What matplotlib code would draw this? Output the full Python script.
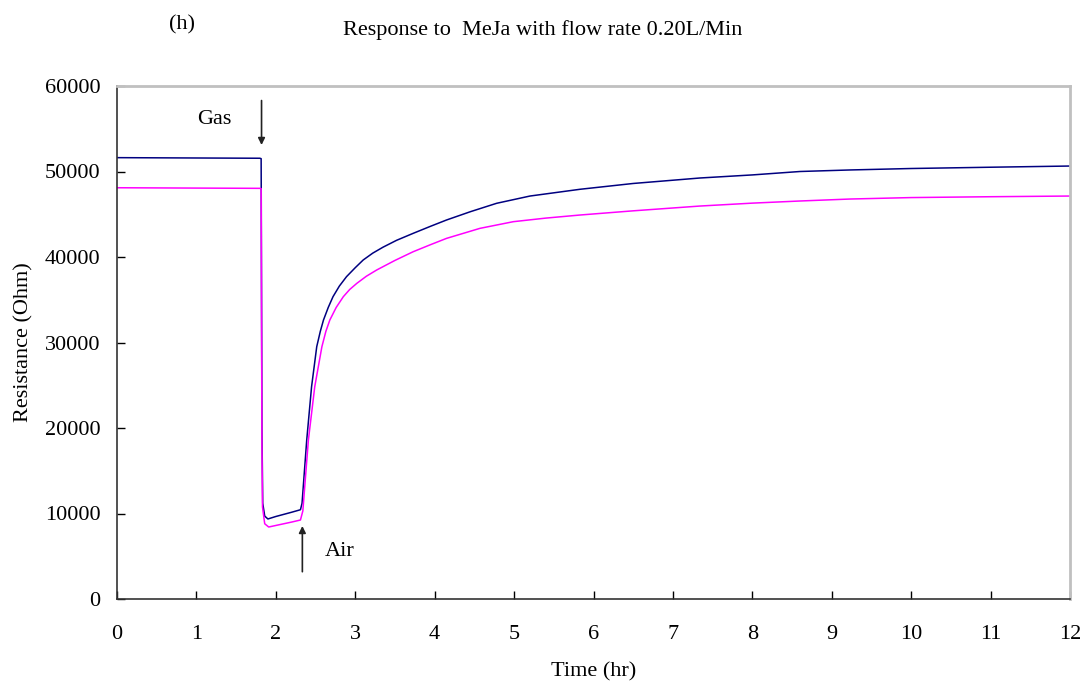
import matplotlib
matplotlib.use("Agg")
import matplotlib.pyplot as plt

plt.rcParams['font.family'] = ['Liberation Serif', 'DejaVu Serif']

# Sensor 1 (navy) resistance trace
time_a = [0, 1.0, 1.80, 1.815, 1.825, 1.835, 1.86, 1.90, 2.0, 2.1, 2.2, 2.31, 2.33,
          2.389, 2.45, 2.515, 2.56, 2.60, 2.66, 2.72, 2.80, 2.89, 3.00, 3.10, 3.22, 3.35,
          3.52, 3.73, 3.95, 4.15, 4.45, 4.78, 5.20, 5.83, 6.50, 7.34, 8.00, 8.60, 9.23,
          10.0, 11.0, 12.0]
res_a = [51620, 51580, 51550, 51500, 20000, 11200, 9700, 9360, 9650, 9900, 10150, 10440, 11200,
         18600, 24830, 29510, 31300, 32630, 34100, 35360, 36600, 37700, 38750, 39650, 40450, 41150,
         41950, 42770, 43600, 44330, 45300, 46280, 47130, 47920, 48600, 49240, 49600, 50000, 50180,
         50350, 50500, 50640]

# Sensor 2 (magenta) resistance trace
time_b = [0, 1.0, 1.80, 1.815, 1.825, 1.832, 1.86, 1.91, 2.0, 2.1, 2.2, 2.31, 2.34,
          2.41, 2.49, 2.58, 2.63, 2.68, 2.76, 2.85, 2.93, 3.02, 3.14, 3.27, 3.50, 3.73,
          3.95, 4.15, 4.57, 4.99, 5.40, 5.83, 6.50, 7.34, 8.00, 8.60, 9.23, 10.0, 11.0, 12.0]
res_b = [48100, 48060, 48030, 48000, 18000, 10760, 8800, 8420, 8600, 8800, 9000, 9240, 10300,
         18600, 24830, 29510, 31300, 32630, 34100, 35360, 36200, 36920, 37750, 38480, 39600, 40620,
         41450, 42180, 43350, 44130, 44550, 44910, 45400, 45960, 46300, 46550, 46780, 46950, 47050, 47130]

x_ticks = list(range(0, 13))
y_ticks = [0, 10000, 20000, 30000, 40000, 50000, 60000]

gas_on = 1.82
air_on = 2.334

fig = plt.figure(figsize=(10.84, 6.82), dpi=100)
ax = fig.add_axes([117 / 1084, 1 - 599 / 682, (1070 - 117) / 1084, (599 - 86) / 682])

ax.plot(time_a, res_a, color='#000080', lw=1.1)
ax.plot(time_b, res_b, color='#FF00FF', lw=1.1)

ax.set_xlim(0, 12)
ax.set_ylim(0, 60000)
ax.set_xticks(x_ticks)
ax.set_yticks(y_ticks)
ax.tick_params(direction='in', length=6, width=1, labelsize=16)
ax.tick_params(axis='y', pad=12)
ax.tick_params(axis='x', pad=19)

for side in ('left', 'bottom'):
    ax.spines[side].set_color('#333333')
    ax.spines[side].set_linewidth(1.2)
for side in ('top', 'right'):
    ax.spines[side].set_color('#c0c0c0')
    ax.spines[side].set_linewidth(2)

ax.set_xlabel('Time (hr)', fontsize=16, labelpad=13)
ax.set_ylabel('Resistance (Ohm)', fontsize=16, labelpad=8)

# Event markers
ax.annotate('', xy=(gas_on, 53100), xytext=(gas_on, 58300),
            arrowprops=dict(arrowstyle='-|>', color='#222222', lw=1.2, mutation_scale=10,
                            shrinkA=0, shrinkB=0))
ax.text(1.23, 56100, 'Gas', fontsize=16, ha='center', va='center')
ax.annotate('', xy=(air_on, 8540), xytext=(air_on, 3190),
            arrowprops=dict(arrowstyle='-|>', color='#222222', lw=1.2, mutation_scale=10,
                            shrinkA=0, shrinkB=0))
ax.text(2.80, 5600, 'Air', fontsize=16, ha='center', va='center')

fig.text(182 / 1084, 1 - 25 / 682, '(h)', fontsize=16, ha='center', va='center')
fig.text(542.5 / 1084, 1 - 30 / 682, 'Response to  MeJa with flow rate 0.20L/Min',
         fontsize=16, ha='center', va='center')

fig.savefig('out.png', dpi=100)
